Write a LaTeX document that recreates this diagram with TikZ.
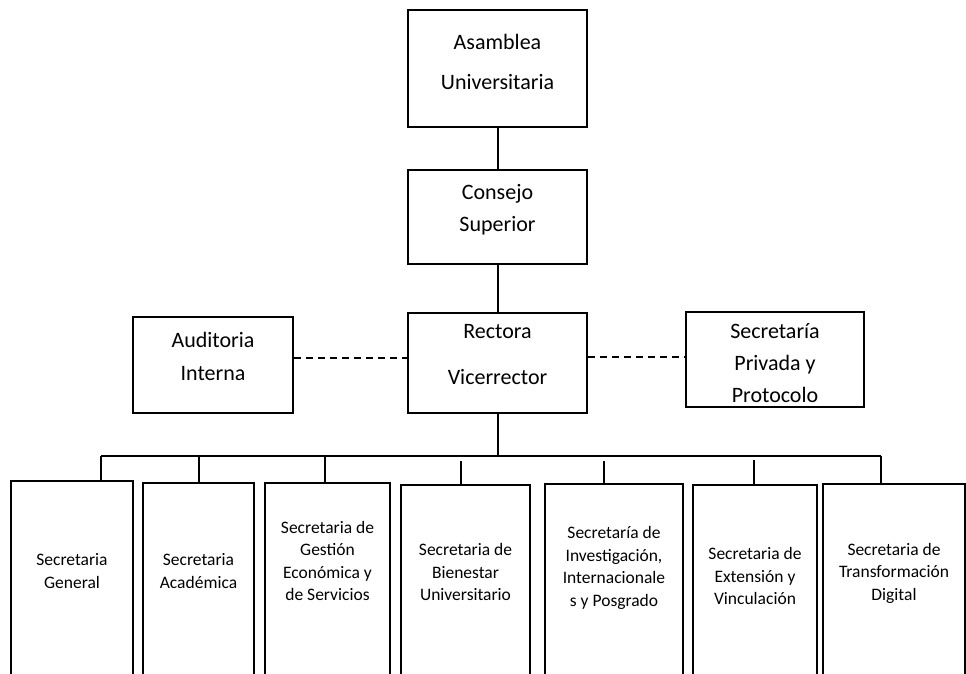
\documentclass[tikz,border=0pt]{standalone}
\usepackage{fontspec}
\setmainfont{Carlito}
\begin{document}
\begin{tikzpicture}[x=1pt,y=-1pt,
 box/.style={draw,line width=2pt,inner sep=0pt},
 lbl/.style={align=center,font=\fontsize{22}{32}\selectfont,inner sep=0pt},
 slbl/.style={align=center,font=\fontsize{17.5}{22.5}\selectfont,inner sep=0pt},
 link/.style={line width=2pt},
 dlink/.style={line width=1.6pt,dash pattern=on 7pt off 5pt}]
\clip (0,0) rectangle (966,673);
\fill[white] (0,0) rectangle (966,673);
% top boxes
\node[box,minimum width=179pt,minimum height=117pt] (asam) at (497.5,68.5) {};
\node[box,minimum width=179pt,minimum height=94pt] (cons) at (497.5,217) {};
\node[box,minimum width=179pt,minimum height=100pt] (rect) at (497.5,363) {};
\node[box,minimum width=160pt,minimum height=96pt] (aud) at (213,365) {};
\node[box,minimum width=178pt,minimum height=95pt] (priv) at (775,359.5) {};
% labels
\node[lbl] (tasam) at (497.5,62) {Asamblea\\[8pt]Universitaria};
\node[lbl] (tcons) at (497.5,210) {Consejo\\Superior};
\node[lbl] (trect) at (497.5,355) {Rectora\\[14pt]Vicerrector};
\node[lbl] (taud) at (213,356) {Auditoria\\[1pt]Interna};
\node[lbl] (tpriv) at (775,363) {Secretaría\\Privada y\\Protocolo};
% bottom boxes
\node[box,minimum width=122pt,minimum height=219pt] (b1) at (72,590.5) {};
\node[box,minimum width=111pt,minimum height=217pt] (b2) at (198.5,591.5) {};
\node[box,minimum width=125pt,minimum height=217pt] (b3) at (327.5,591.5) {};
\node[box,minimum width=129pt,minimum height=215pt] (b4) at (465.5,592.5) {};
\node[box,minimum width=138pt,minimum height=216pt] (b5) at (614,592) {};
\node[box,minimum width=124pt,minimum height=215pt] (b6) at (755,592.5) {};
\node[box,minimum width=142pt,minimum height=216pt] (b7) at (894,592) {};
\node[slbl] (t1) at (72,571) {Secretaria\\General};
\node[slbl] (t2) at (198.5,571) {Secretaria\\Académica};
\node[slbl] (t3) at (327.5,561) {Secretaria de\\Gestión\\Económica y\\de Servicios};
\node[slbl] (t4) at (465.5,572) {Secretaria de\\Bienestar\\Universitario};
\node[slbl] (t5) at (614,568) {Secretaría de\\Investigación,\\Internacionale\\s y Posgrado};
\node[slbl] (t6) at (755,576) {Secretaria de\\Extensión y\\Vinculación};
\node[slbl] (t7) at (894,573) {Secretaria de\\Transformación\\Digital};
% connectors
\draw[link] (asam) -- (cons);
\draw[link] (cons) -- (rect);
\coordinate (bus) at (497.5,456);
\draw[link] (rect.south) -- (bus);
\coordinate (d1) at (101,456);
\coordinate (d2) at (199,456);
\coordinate (d3) at (325,456);
\coordinate (d4) at (461,461);
\coordinate (d5) at (604,461);
\coordinate (d6) at (754,460);
\coordinate (d7) at (881,456);
\draw[link] (d1) -- (d7);
\foreach \i in {1,...,7} \draw[link] (d\i) -- (d\i |- b\i.north);
\draw[dlink] ([yshift=7pt]aud.east) -- ([yshift=7pt]aud.east -| rect.west);
\draw[dlink] ([yshift=6pt]rect.east) -- ([yshift=6pt]rect.east -| priv.west);
\end{tikzpicture}
\end{document}
